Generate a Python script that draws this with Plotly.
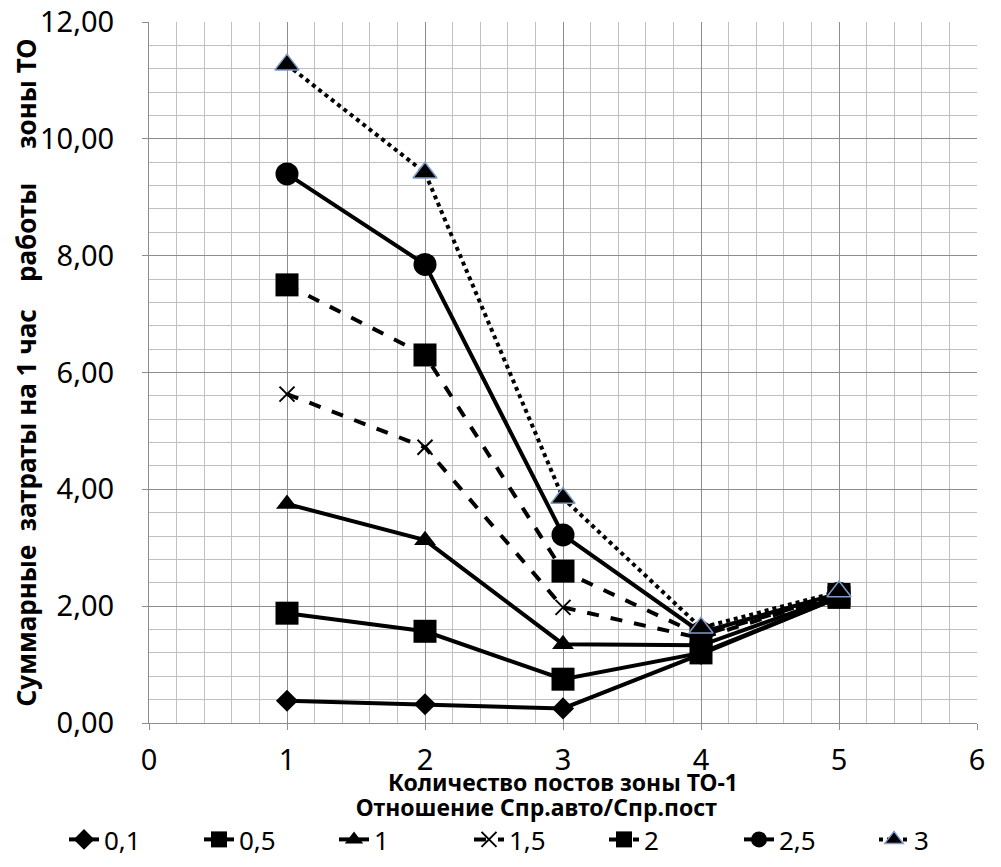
import plotly.graph_objects as go

posts = [1, 2, 3, 4, 5]
ratios = ['0,1', '0,5', '1', '1,5', '2', '2,5', '3']

cost_01 = [0.38, 0.32, 0.25, 1.18, 2.15]
cost_05 = [1.88, 1.57, 0.75, 1.20, 2.15]
cost_1 = [3.75, 3.13, 1.35, 1.33, 2.17]
cost_15 = [5.63, 4.72, 1.98, 1.45, 2.20]
cost_2 = [7.50, 6.30, 2.60, 1.50, 2.20]
cost_25 = [9.40, 7.85, 3.22, 1.55, 2.22]
cost_3 = [11.27, 9.42, 3.85, 1.63, 2.25]

series = [cost_01, cost_05, cost_1, cost_15, cost_2, cost_25, cost_3]
symbols = ['diamond', 'square', 'triangle-up', 'x-thin', 'square', 'circle', 'triangle-up']
sizes = [17, 23, 19, 15, 23, 23, 21]
dashes = ['solid', 'solid', 'solid', 'dash', 'dash', 'solid', 'dot']

FONT = 'Noto Sans'

fig = go.Figure()
for name, ys, sym, sz, dash in zip(ratios, series, symbols, sizes, dashes):
    mline = dict(width=0)
    if sym == 'x-thin':
        mline = dict(width=2, color='black')
    if name == '3':
        mline = dict(width=1.5, color='#7f9bc8')
    fig.add_trace(go.Scatter(
        x=posts, y=ys, name=name, mode='lines+markers',
        line=dict(color='black', width=4, dash=dash),
        marker=dict(symbol=sym, size=sz, color='black', line=mline),
    ))

# the page body adds an 8px offset, margins are set with that in mind
fig.update_layout(
    width=1001, height=867,
    paper_bgcolor='white', plot_bgcolor='white',
    margin=dict(l=141, r=32, t=14, b=152),
    separators=', ',
    font=dict(family=FONT, color='black', size=29),
    legend=dict(
        orientation='h',
        x=-0.08, xanchor='left', y=-0.09, yanchor='top',
        title=dict(text='<b>Отношение Спр.авто/Спр.пост</b>', side='top center',
                   font=dict(size=23)),
        font=dict(size=26), entrywidth=90, entrywidthmode='pixels',
        tracegroupgap=0,
    ),
)
# x axis title as an annotation so it sits exactly between tick labels and legend
fig.add_annotation(
    text='<b>Количество постов зоны ТО-1</b>', xref='paper', yref='paper',
    x=0.5, y=0, xanchor='center', yanchor='middle', yshift=-59,
    showarrow=False, font=dict(size=23, family=FONT, color='black'),
)
fig.update_xaxes(
    range=[0, 6], dtick=1, tickformat='d', automargin=False,
    showgrid=True, gridcolor='#8c8c8c', gridwidth=1.2,
    minor=dict(dtick=0.2, showgrid=True, gridcolor='#c0c0c0', gridwidth=1.2),
    showline=True, linecolor='#8c8c8c', linewidth=1.2,
    ticks='outside', ticklen=6, tickcolor='#8c8c8c', ticklabelstandoff=5,
    ticklabeloverflow='allow',
    zeroline=False,
)
fig.update_yaxes(
    range=[0, 12], dtick=2, tickformat='.2f', automargin=False,
    showgrid=True, gridcolor='#8c8c8c', gridwidth=1.2,
    minor=dict(dtick=0.4, showgrid=True, gridcolor='#c0c0c0', gridwidth=1.2),
    showline=True, linecolor='#8c8c8c', linewidth=1.2,
    ticks='outside', ticklen=6, tickcolor='#8c8c8c', ticklabelstandoff=22,
    ticklabeloverflow='allow',
    zeroline=False,
    title=dict(text='<b>Суммарные\u00a0 затраты на 1 час\u00a0\u00a0\u00a0 работы\u00a0\u00a0\u00a0\u00a0 зоны ТО</b>',
               font=dict(size=26), standoff=3),
)

fig.write_html("out.html")
